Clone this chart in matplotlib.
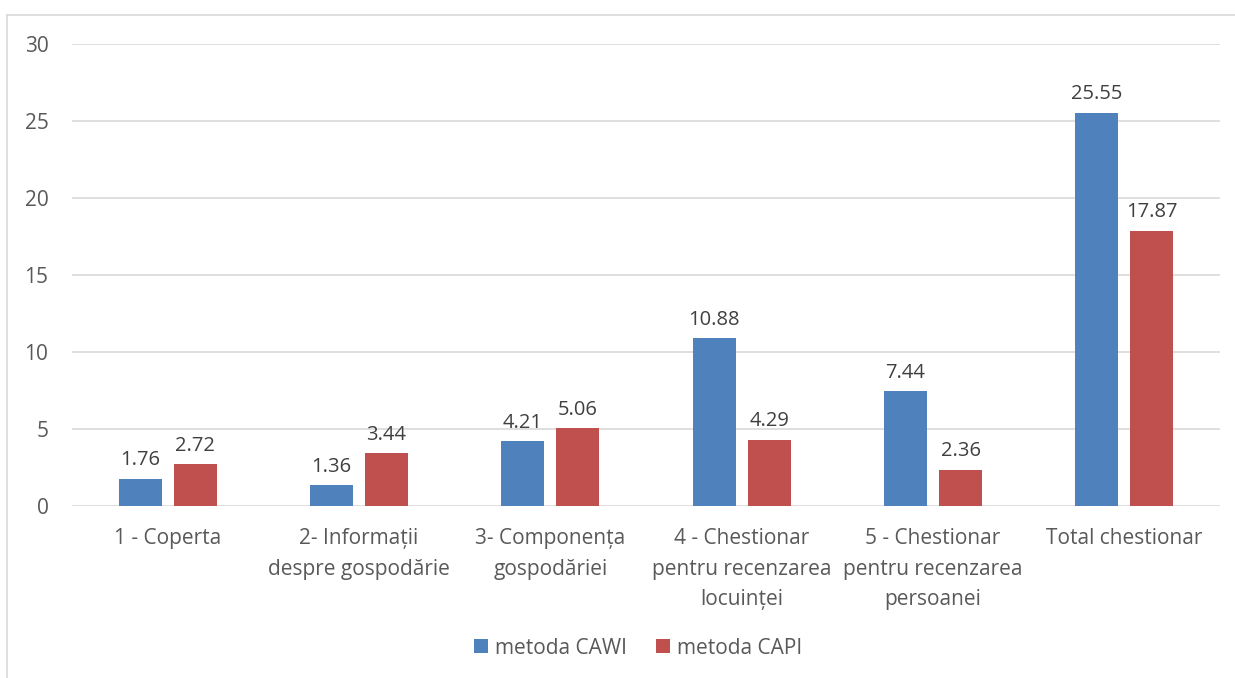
import matplotlib
matplotlib.use("Agg")
import matplotlib.pyplot as plt
import numpy as np
from matplotlib.lines import Line2D

categories = ["1 - Coperta", "2- Informații\ndespre gospodărie", "3- Componența\ngospodăriei",
              "4 - Chestionar\npentru recenzarea\nlocuinței", "5 - Chestionar\npentru recenzarea\npersoanei",
              "Total chestionar"]
cawi = [1.76, 1.36, 4.21, 10.88, 7.44, 25.55]
capi = [2.72, 3.44, 5.06, 4.29, 2.36, 17.87]
series_names = ["metoda CAWI", "metoda CAPI"]
yticks = [0, 5, 10, 15, 20, 25, 30]

plt.rcParams['font.family'] = ['Open Sans', 'DejaVu Sans']
txt = '#595959'
W, H = 1235, 678
fig = plt.figure(figsize=(W/100, H/100), dpi=100)
ax = fig.add_axes([72/W, 1-506/H, (1220-72)/W, (506-44)/H])

x = np.arange(len(categories))
bw = 0.225
off = 0.144
b1 = ax.bar(x - off, cawi, bw, color='#4F81BD', label=series_names[0], zorder=3)
b2 = ax.bar(x + off, capi, bw, color='#C0504D', label=series_names[1], zorder=3)
for bars, vals in ((b1, cawi), (b2, capi)):
    for r, v in zip(bars, vals):
        ax.text(r.get_x() + r.get_width()/2, v + 0.55, f"{v:.2f}", ha='center', va='bottom',
                fontsize=14.5, color='#404040')

ax.set_xlim(-0.5, len(categories) - 0.5)
ax.set_ylim(0, 30)
ax.set_yticks(yticks)
ax.yaxis.grid(True, color='#D9D9D9', linewidth=1.2, zorder=0)
ax.set_axisbelow(True)
for s in ax.spines.values():
    s.set_visible(False)
ax.tick_params(axis='both', length=0, labelsize=15, colors=txt)
ax.tick_params(axis='y', pad=17)
ax.set_xticks(x)
ax.set_xticklabels(categories, linespacing=1.6)
ax.tick_params(axis='x', pad=16)

ax.legend(loc='center', bbox_to_anchor=(638/W, 1-648/H), bbox_transform=fig.transFigure,
          ncol=2, frameon=False, fontsize=15, labelcolor=txt, handlelength=0.68,
          handleheight=0.68, columnspacing=1.4, handletextpad=0.33)

# outer frame lines (left and top)
fig.add_artist(Line2D([7/W, 7/W], [0, 1-15/H], transform=fig.transFigure, color='#D9D9D9', lw=1.2))
fig.add_artist(Line2D([7/W, 1], [1-15/H, 1-15/H], transform=fig.transFigure, color='#D9D9D9', lw=1.2))

fig.savefig("out.png", dpi=100)
